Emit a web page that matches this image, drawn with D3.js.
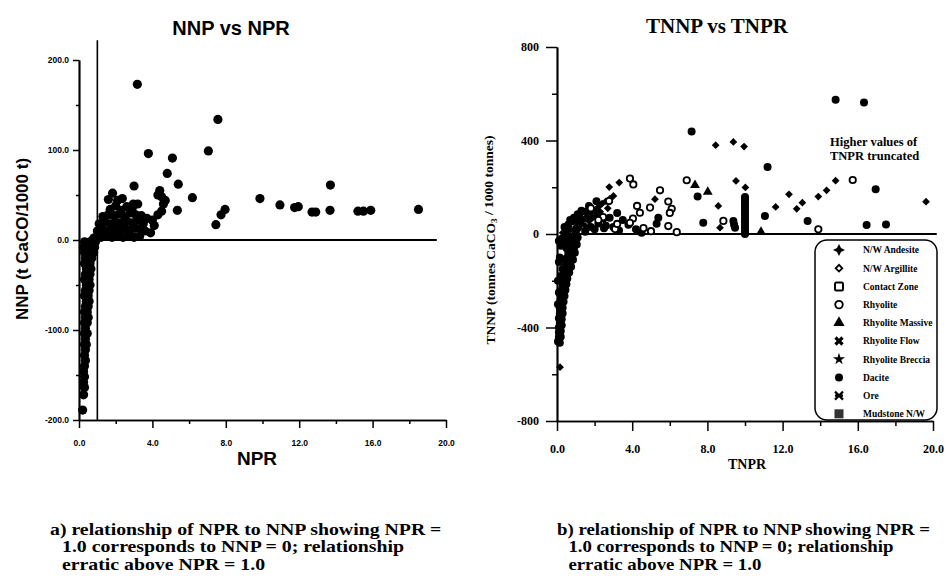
<!DOCTYPE html>
<html>
<head>
<meta charset="utf-8">
<script src="https://cdn.jsdelivr.net/npm/d3@7"></script>
<style>
  body { margin: 0; background: #fff; }
  svg { display: block; }
</style>
</head>
<body>
<div id="chart"></div>
<script>
// ---------- data ----------
const nprTicks = [0, 4, 8, 12, 16, 20];
const nprMinor = [2, 6, 10, 14, 18];
const nnpTicks = [-200, -100, 0, 100, 200];
const nnpMinor = [-150, -50, 50, 150];
const tnnpTicks = [-800, -400, 0, 400, 800];
const tnnpMinor = [-600, -200, 200, 600];

// a) NPR vs NNP  [NPR, NNP]
const nnpPoints = [
  // negative branch
  [0.3,-2],[0.6,-2],[0.9,-2],[0.25,-8],[0.55,-8],[0.85,-8],[0.3,-14],[0.6,-14],[0.8,-14],
  [0.35,-20],[0.7,-20],[0.3,-26],[0.6,-26],[0.4,-32],[0.65,-32],[0.35,-38],[0.6,-38],
  [0.3,-44],[0.55,-44],[0.4,-50],[0.6,-50],[0.35,-56],[0.55,-56],[0.3,-62],[0.5,-62],
  [0.4,-68],[0.55,-68],[0.35,-74],[0.5,-74],[0.3,-80],[0.45,-80],[0.35,-86],[0.5,-86],
  [0.3,-92],[0.45,-92],[0.35,-98],[0.3,-104],[0.45,-104],[0.35,-110],[0.3,-116],[0.4,-116],
  [0.35,-122],[0.3,-128],[0.35,-134],[0.3,-140],[0.25,-146],[0.3,-152],[0.25,-158],
  [0.3,-164],[0.25,-172],[0.2,-189],
  // cluster just above NPR = 1
  [0.8,2],[1.0,4],[1.2,3],[1.4,5],[1.6,4],[1.8,3],[2.0,5],[2.2,4],[2.4,3],[2.6,5],[2.8,4],[3.0,3],[3.3,4],
  [1.0,10],[1.3,12],[1.6,10],[1.9,12],[2.2,11],[2.5,13],[2.8,11],[3.1,13],[3.4,12],
  [1.1,18],[1.4,20],[1.7,18],[2.0,20],[2.3,19],[2.6,21],[2.9,19],[3.2,22],[3.5,18],
  [1.3,26],[1.6,28],[1.9,27],[2.2,29],[2.5,26],[2.8,30],[3.1,28],[3.4,27],
  [1.7,34],[2.0,38],[2.3,33],[2.6,37],[2.9,35],[3.2,40],
  [1.83,52],[2.36,46],[2.96,40],[1.6,45],[2.1,44],
  [3.6,10],[3.9,8],[3.7,24],[4.0,22],[4.1,16],[4.3,28],[4.5,32],[4.6,40],[4.5,48],[4.4,55],[4.3,50],[4.7,44],
  // scattered
  [3.18,173],[7.57,134],[3.78,96],[5.09,91],[7.05,99],[4.81,74],[3.0,60],[5.41,62],[6.18,47],
  [9.86,46],[10.95,39],[11.75,36],[11.95,37],[12.7,31],[12.9,31],[13.68,33],[13.7,61],
  [15.2,32],[15.5,32],[15.9,33],[18.5,34],[5.36,33],[7.46,17],[7.74,28],[7.96,34]
];

// b) TNPR vs TNNP  [TNPR, TNNP]
const andesitePoints = [
  [8.44,380],[9.38,394],[9.95,374],[14.82,228],[19.63,138],[14.34,187],[13.9,160],[13.05,134],
  [12.75,108],[12.34,170],[11.63,116],[9.52,227],[10.02,199],[8.58,120],[8.67,27],[2.78,201],
  [3.31,220],[5.21,149],[3.0,163],[0.16,-570],
  [0.3,5],[0.5,10],[0.7,20],[0.9,15],[1.0,30],[1.2,25],[1.1,50],[1.3,45],[1.4,60],[1.5,35],
  [1.6,75],[1.7,55],[1.8,90],[1.9,70],[2.0,100],[2.1,80],[2.2,115],[2.3,95],[2.4,130],[2.5,60],
  [2.6,140],[2.7,110],[2.8,150]
];
const dacitePoints = [
  [14.82,574],[16.33,563],[7.16,438],[11.2,287],[16.95,191],[16.47,39],[17.5,41],[11.06,77],
  [13.33,56],[7.48,160],[7.78,48],[9.38,56],[9.42,40],[9.47,27],[5.39,70],[5.3,44],
  [10,0],[10,10],[10,20],[10,30],[10,40],[10,50],[10,60],[10,70],[10,80],[10,90],[10,100],
  [10,110],[10,120],[10,130],[10,140],[10,150],[10,158],
  [1.0,5],[1.5,10],[2.0,20],[2.5,25],[3.0,30],[1.2,70],[1.5,95],[0.6,40],[0.8,55],[2.2,45],
  [2.8,70],[3.2,90],[3.5,60],[3.8,40],[4.2,20],[0.4,30],[1.8,30],[2.6,35],[3.3,15],[4.5,5],
  [0.9,70],[1.3,100],[1.7,120],[2.1,140],[0.7,60],[1.1,85],
  // negative branch
  [0.9,-20],[0.8,-40],[0.7,-60],[0.6,-80],[0.55,-100],[0.5,-120],[0.45,-140],[0.4,-160],
  [0.35,-180],[0.3,-200],[0.3,-220],[0.25,-240],[0.25,-260],[0.2,-280],[0.2,-300],[0.15,-320],
  [0.15,-340],[0.1,-360],[0.15,-380],[0.1,-400],[0.1,-420],[0.1,-440],[0.05,-460],[0.2,-180],
  [0.1,-250],[0.3,-150],[0.4,-110],[0.5,-60],[0.6,-30],[0.7,-10],[1.0,-5],[0.1,-120],
  [0.05,-200],[0.15,-100],[0.2,-50],[0.35,-40],[0.05,-300],[0.1,-30],[0.25,-20],[0.45,-15],
  [1.0,-30],[0.9,-60],[0.8,-90],[0.7,-120],[1.1,-15],[1.05,-45],[0.95,-80],[0.85,-110],
  [0.75,-140],[0.65,-165],[0.55,-190],[0.5,-215],[0.45,-240],[0.4,-265],[0.35,-290],
  [0.3,-315],[0.3,-340],[0.25,-365],[0.25,-390],[0.2,-415],[0.2,-440],[0.15,-465],
  [0.6,-125],[0.55,-155],[0.45,-185],[0.4,-210],[0.7,-95],[0.75,-70],[0.85,-45]
];
const rhyolitePoints = [
  [3.88,237],[4.06,212],[15.73,231],[13.9,20],[6.9,230],[8.85,56],[5.48,187],[5.92,139],
  [6.1,108],[6.0,90],[5.92,34],[6.37,8],[4.95,113],[4.41,91],[4.04,66],[3.88,48],[2.77,141],
  [2.45,72],[3.09,21],[4.26,120],[3.2,43],[1.8,110],[2.2,60],[4.6,25],[5.0,12]
];
const massivePoints = [[7.34,209],[8.02,180],[10.85,9]];

const legendLabels = ["N/W Andesite", "N/W Argillite", "Contact Zone", "Rhyolite", "Rhyolite Massive",
  "Rhyolite Flow", "Rhyolite Breccia", "Dacite", "Ore", "Mudstone N/W"];

const captionA = ["a) relationship of NPR to NNP showing NPR =", "1.0 corresponds to NNP = 0; relationship", "erratic above NPR = 1.0"];
const captionB = ["b) relationship of NPR to NNP showing NPR =", "1.0 corresponds to NNP = 0; relationship", "erratic above NPR = 1.0"];

// ---------- setup ----------
const SANS = "'Liberation Sans', Arial, sans-serif";
const SERIF = "'Liberation Serif', 'Times New Roman', serif";

const svg = d3.select("#chart").append("svg")
    .attr("width", 947)
    .attr("height", 584);

const xL = d3.scaleLinear().domain([0, 20]).range([79, 446]);
const yL = d3.scaleLinear().domain([-200, 200]).range([420, 60]);
const xR = d3.scaleLinear().domain([0, 20]).range([557, 933]);
const yR = d3.scaleLinear().domain([-800, 800]).range([421, 47]);

function styleAxis(g, font, size) {
    g.select(".domain").attr("stroke", "#000").attr("stroke-width", 1.7);
    g.selectAll(".tick line").attr("stroke", "#000").attr("stroke-width", 1.5);
    g.selectAll(".tick text")
        .attr("fill", "#000")
        .style("font-family", font)
        .style("font-size", size + "px")
        .style("font-weight", "bold");
}

// ---------- panel a ----------
svg.append("g").attr("transform", `translate(0,${yL(-200)})`)
    .call(d3.axisBottom(xL).tickValues(nprMinor).tickSize(4).tickSizeOuter(0).tickFormat(""))
    .call(g => styleAxis(g, SANS, 8));
svg.append("g").attr("transform", `translate(0,${yL(-200)})`)
    .call(d3.axisBottom(xL).tickValues(nprTicks).tickSize(8).tickSizeOuter(0).tickPadding(12)
        .tickFormat(d => d.toFixed(1)))
    .call(g => styleAxis(g, SANS, 8.5));

svg.append("g").attr("transform", `translate(${xL(0)},0)`)
    .call(d3.axisLeft(yL).tickValues(nnpMinor).tickSize(3).tickSizeOuter(0).tickFormat(""))
    .call(g => styleAxis(g, SANS, 8));
svg.append("g").attr("transform", `translate(${xL(0)},0)`)
    .call(d3.axisLeft(yL).tickValues(nnpTicks).tickSize(6).tickSizeOuter(0).tickPadding(4)
        .tickFormat(d => d.toFixed(1)))
    .call(g => styleAxis(g, SANS, 8.5));

// reference lines NPR = 1 and NNP = 0
svg.append("line")
    .attr("x1", xL(1)).attr("x2", xL(1))
    .attr("y1", yL(222)).attr("y2", yL(-200))
    .attr("stroke", "#000").attr("stroke-width", 1.6);
svg.append("line")
    .attr("x1", xL(1)).attr("x2", xL(19.5))
    .attr("y1", yL(0)).attr("y2", yL(0))
    .attr("stroke", "#000").attr("stroke-width", 2);

svg.append("g").selectAll("circle")
    .data(nnpPoints)
    .enter()
    .append("circle")
        .attr("cx", d => xL(d[0]))
        .attr("cy", d => yL(d[1]))
        .attr("r", 4.6)
        .attr("fill", "#000");

svg.append("text")
    .attr("x", 231).attr("y", 35)
    .attr("text-anchor", "middle")
    .style("font-family", SANS).style("font-weight", "bold").style("font-size", "20px")
    .text("NNP vs NPR");

svg.append("text")
    .attr("x", xL(9.7)).attr("y", 465)
    .attr("text-anchor", "middle")
    .style("font-family", SANS).style("font-weight", "bold").style("font-size", "19px")
    .text("NPR");

svg.append("text")
    .attr("transform", "translate(22,239) rotate(-90)")
    .attr("text-anchor", "middle")
    .attr("dy", "0.35em")
    .style("font-family", SANS).style("font-weight", "bold").style("font-size", "17px")
    .text("NNP (t CaCO/1000 t)");

// ---------- panel b ----------
svg.append("g").attr("transform", `translate(0,${yR(-800)})`)
    .call(d3.axisBottom(xR).tickValues(nprMinor).tickSize(5).tickSizeOuter(0).tickFormat(""))
    .call(g => styleAxis(g, SERIF, 12));
svg.append("g").attr("transform", `translate(0,${yR(-800)})`)
    .call(d3.axisBottom(xR).tickValues(nprTicks).tickSize(10).tickSizeOuter(0).tickPadding(13)
        .tickFormat(d => d.toFixed(1)))
    .call(g => styleAxis(g, SERIF, 12));

svg.append("g").attr("transform", `translate(${xR(0)},0)`)
    .call(d3.axisLeft(yR).tickValues(tnnpMinor).tickSize(5).tickSizeOuter(0).tickFormat(""))
    .call(g => styleAxis(g, SERIF, 12));
svg.append("g").attr("transform", `translate(${xR(0)},0)`)
    .call(d3.axisLeft(yR).tickValues(tnnpTicks).tickSize(11).tickSizeOuter(0).tickPadding(7)
        .tickFormat(d => String(d)))
    .call(g => styleAxis(g, SERIF, 12));

svg.append("line")
    .attr("x1", xR(0.9)).attr("x2", xR(20.2))
    .attr("y1", yR(0)).attr("y2", yR(0))
    .attr("stroke", "#000").attr("stroke-width", 2);

const diamond = d3.symbol().type(d3.symbolSquare).size(30)();
const triangle = d3.symbol().type(d3.symbolTriangle).size(42)();

svg.append("g").selectAll("circle")
    .data(dacitePoints)
    .enter()
    .append("circle")
        .attr("cx", d => xR(d[0]))
        .attr("cy", d => yR(d[1]))
        .attr("r", 4)
        .attr("fill", "#000");

svg.append("g").selectAll("path")
    .data(andesitePoints)
    .enter()
    .append("path")
        .attr("d", diamond)
        .attr("transform", d => `translate(${xR(d[0])},${yR(d[1])}) rotate(45)`)
        .attr("fill", "#000");

svg.append("g").selectAll("path")
    .data(massivePoints)
    .enter()
    .append("path")
        .attr("d", triangle)
        .attr("transform", d => `translate(${xR(d[0])},${yR(d[1])})`)
        .attr("fill", "#000");

svg.append("g").selectAll("circle")
    .data(rhyolitePoints)
    .enter()
    .append("circle")
        .attr("cx", d => xR(d[0]))
        .attr("cy", d => yR(d[1]))
        .attr("r", 3.2)
        .attr("fill", "#fff")
        .attr("stroke", "#000")
        .attr("stroke-width", 1.8);

svg.append("text")
    .attr("x", 717).attr("y", 33)
    .attr("text-anchor", "middle")
    .style("font-family", SERIF).style("font-weight", "bold").style("font-size", "21px")
    .text("TNNP vs TNPR");

svg.append("text")
    .attr("x", 747).attr("y", 469)
    .attr("text-anchor", "middle")
    .style("font-family", SERIF).style("font-weight", "bold").style("font-size", "14px")
    .text("TNPR");

const yLabR = svg.append("text")
    .attr("transform", "translate(490,240) rotate(-90)")
    .attr("text-anchor", "middle")
    .attr("dy", "0.35em")
    .style("font-family", SERIF).style("font-weight", "bold").style("font-size", "13.5px");
yLabR.append("tspan").text("TNNP (tonnes CaCO");
yLabR.append("tspan").attr("dy", "0.3em").style("font-size", "9px").text("3");
yLabR.append("tspan").attr("dy", "-0.3em").text(" / 1000 tonnes)");

const note = svg.append("text")
    .style("font-family", SERIF).style("font-weight", "bold").style("font-size", "12.5px");
note.append("tspan").attr("x", 830).attr("y", 146).text("Higher values of");
note.append("tspan").attr("x", 830).attr("y", 160).text("TNPR truncated");

// legend
const legend = svg.append("g");
legend.append("rect")
    .attr("x", 815).attr("y", 240)
    .attr("width", 122).attr("height", 180)
    .attr("rx", 12)
    .attr("fill", "#fff")
    .attr("stroke", "#000")
    .attr("stroke-width", 1.5);

function legendSymbol(g, i) {
    const blk = "#000";
    if (i === 0) {
        g.append("path").attr("d", "M0,-6L2,-2L6,0L2,2L0,6L-2,2L-6,0L-2,-2Z").attr("fill", blk);
    } else if (i === 1) {
        g.append("path").attr("d", d3.symbol().type(d3.symbolSquare).size(22)())
            .attr("transform", "rotate(45)").attr("fill", "#fff").attr("stroke", blk).attr("stroke-width", 1.8);
    } else if (i === 2) {
        g.append("rect").attr("x", -4).attr("y", -4).attr("width", 8).attr("height", 8).attr("rx", 1.5)
            .attr("fill", "#fff").attr("stroke", blk).attr("stroke-width", 2);
    } else if (i === 3) {
        g.append("circle").attr("r", 3.8).attr("fill", "#fff").attr("stroke", blk).attr("stroke-width", 1.8);
    } else if (i === 4) {
        g.append("path").attr("d", d3.symbol().type(d3.symbolTriangle).size(55)()).attr("fill", blk);
    } else if (i === 5) {
        g.append("path").attr("d", d3.symbol().type(d3.symbolCross).size(55)())
            .attr("transform", "rotate(45)").attr("fill", blk);
    } else if (i === 6) {
        g.append("path").attr("d", d3.symbol().type(d3.symbolStar).size(45)()).attr("fill", blk);
    } else if (i === 7) {
        g.append("circle").attr("r", 4).attr("fill", blk);
    } else if (i === 8) {
        g.append("path").attr("d", "M-4,-4L4,4M4,-4L-4,4M-4,0L4,0")
            .attr("stroke", blk).attr("stroke-width", 2.2);
    } else {
        g.append("rect").attr("x", -4.5).attr("y", -4.5).attr("width", 9).attr("height", 9).attr("fill", "#333");
    }
}

legendLabels.forEach((label, i) => {
    const row = legend.append("g").attr("transform", `translate(839,${250 + i * 18.2})`);
    legendSymbol(row, i);
    row.append("text")
        .attr("x", 24).attr("dy", "0.35em")
        .style("font-family", SERIF).style("font-weight", "bold").style("font-size", "9.5px")
        .text(label);
});

// ---------- captions ----------
// the scanned captions are wider than their height suggests, so stretch them a little
function caption(lines, x0, indent, stretch) {
    const g = svg.append("g").attr("transform", `translate(${x0},0) scale(${stretch},1)`);
    lines.forEach((line, i) => {
        g.append("text")
            .attr("x", i === 0 ? 0 : indent)
            .attr("y", 535 + i * 17.5)
            .style("font-family", SERIF).style("font-weight", "bold").style("font-size", "16.5px")
            .text(line);
    });
}
caption(captionA, 50, 10, 1.2);
caption(captionB, 557, 10, 1.14);
</script>
</body>
</html>
